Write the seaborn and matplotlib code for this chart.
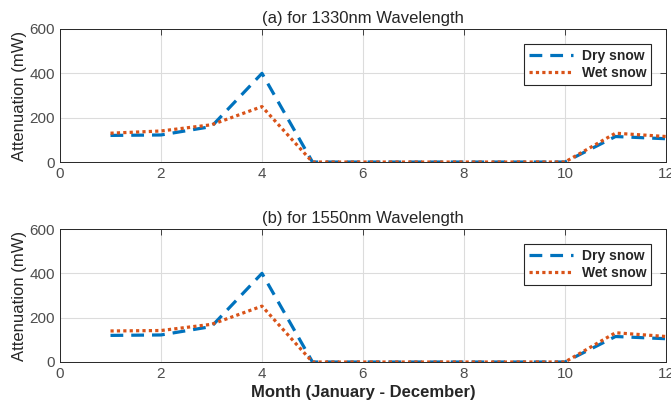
import pandas as pd
import matplotlib
matplotlib.use("Agg")
import matplotlib.pyplot as plt
import seaborn as sns

months = list(range(1, 13))

# (a) 1330nm
dry_1330 = [120, 122, 160, 400, 0, 0, 0, 0, 0, 0, 115, 105]
wet_1330 = [130, 140, 168, 250, 0, 0, 0, 0, 0, 0, 130, 115]

# (b) 1550nm
dry_1550 = [120, 122, 160, 400, 0, 0, 0, 0, 0, 0, 115, 105]
wet_1550 = [140, 142, 170, 252, 0, 0, 0, 0, 0, 0, 132, 115]

titles = ["(a) for 1330nm Wavelength", "(b) for 1550nm Wavelength"]

sns.set_style("white")
plt.rcParams["font.family"] = ["Liberation Sans", "DejaVu Sans"]

fig = plt.figure(figsize=(6.71, 4.13), dpi=100)
ax_a = fig.add_axes([0.0894, 0.6077, 0.9031, 0.3221])
ax_b = fig.add_axes([0.0894, 0.1235, 0.9031, 0.3220])

palette = {"Dry snow": "#0072BD", "Wet snow": "#D95319"}
dashes = {"Dry snow": (4, 2.5), "Wet snow": (1, 1)}

for ax, dry, wet, title in zip([ax_a, ax_b], [dry_1330, dry_1550],
                               [wet_1330, wet_1550], titles):
    df = pd.DataFrame({
        "Month": months * 2,
        "Attenuation": dry + wet,
        "Type": ["Dry snow"] * 12 + ["Wet snow"] * 12,
    })
    sns.lineplot(data=df, x="Month", y="Attenuation", hue="Type",
                 style="Type", palette=palette, dashes=dashes,
                 linewidth=2.3, ax=ax)
    ax.set_xlim(0, 12)
    ax.set_ylim(0, 600)
    ax.set_xticks([0, 2, 4, 6, 8, 10, 12])
    ax.set_yticks([0, 200, 400, 600])
    ax.grid(True, color="#dcdcdc", linewidth=0.8)
    ax.tick_params(direction="in", top=True, right=True, length=4,
                   labelsize=11, colors="#262626", labelcolor="#4d4d4d",
                   width=0.6)
    for s in ax.spines.values():
        s.set_color("#262626")
        s.set_linewidth(0.7)
    ax.set_title(title, fontsize=12, color="#262626", pad=4)
    ax.set_ylabel("Attenuation (mW)", fontsize=12, color="#262626",
                  labelpad=2)
    ax.set_xlabel("")
    leg = ax.legend(loc="upper right", bbox_to_anchor=(0.987, 0.94),
                    fancybox=False, framealpha=1, edgecolor="#262626",
                    prop={"weight": "bold", "size": 10},
                    handlelength=3.2, borderpad=0.35, labelspacing=0.25,
                    handletextpad=0.6)
    leg.get_frame().set_linewidth(0.8)

ax_b.set_xlabel("Month (January - December)", fontsize=12,
                fontweight="bold", color="#262626", labelpad=3)

fig.savefig("out.png", dpi=100)
